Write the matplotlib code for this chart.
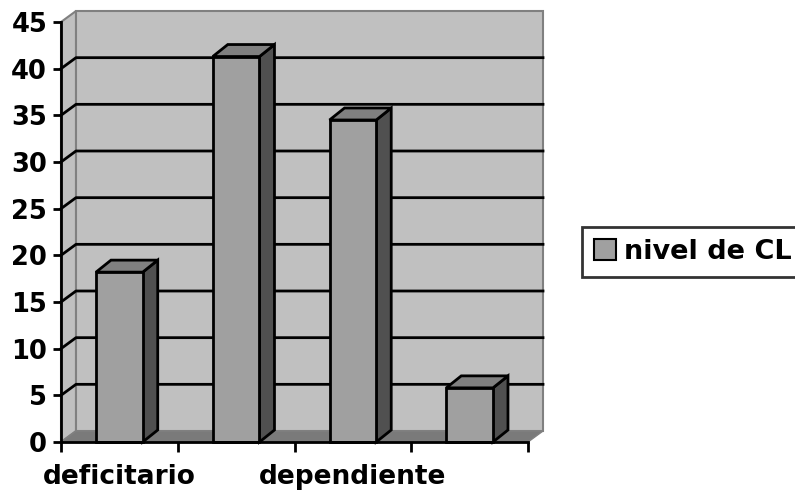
import matplotlib
matplotlib.use("Agg")
import matplotlib.pyplot as plt
from matplotlib.patches import Polygon, Patch
from matplotlib.lines import Line2D

plt.rcParams["font.family"] = ["DejaVu Sans"]
plt.rcParams["font.weight"] = "bold"

# Data
categories = ["deficitario", "", "dependiente", ""]
values = [18.2, 41.3, 34.5, 5.8]
series_name = "nivel de CL"
y_ticks = [0, 5, 10, 15, 20, 25, 30, 35, 40, 45]

# Colours
WALL = "#c0c0c0"
WALL_EDGE = "#808080"
FLOOR = "#7a7a7a"
BAR_FRONT = "#a0a0a0"
BAR_TOP = "#808080"
BAR_SIDE = "#505050"

W, H, DPI = 795, 499, 100
fig = plt.figure(figsize=(W / DPI, H / DPI), dpi=DPI)
fig.patch.set_facecolor("white")

# front plane of the plot area in figure pixels
left_px, right_px, bottom_px, top_px = 61, 528, 442, 22
ax = fig.add_axes([left_px / W, (H - bottom_px) / H,
                   (right_px - left_px) / W, (bottom_px - top_px) / H])
n = len(categories)
ymax = y_ticks[-1]
ax.set_xlim(0, n)
ax.set_ylim(0, ymax)
ax.set_facecolor("none")

# depth offsets (pixels) converted to data units
def depth(px_x, px_y):
    inv = ax.transData.inverted()
    x0, y0 = inv.transform((0, 0))
    x1, y1 = inv.transform((px_x, px_y))
    return x1 - x0, y1 - y0

wdx, wdy = depth(15, 11)   # wall depth
bdx, bdy = depth(15, 12)   # column depth

def poly(pts, fc, ec, lw, z):
    p = Polygon(pts, closed=True, facecolor=fc, edgecolor=ec, linewidth=lw,
                zorder=z, clip_on=False, joinstyle="miter")
    ax.add_patch(p)

# side wall, back wall and floor
poly([(0, 0), (0, ymax), (wdx, ymax + wdy), (wdx, wdy)], WALL, WALL_EDGE, 1.5, 1)
poly([(wdx, wdy), (n + wdx, wdy), (n + wdx, ymax + wdy), (wdx, ymax + wdy)],
     WALL, WALL_EDGE, 1.5, 1)
poly([(0, 0), (n, 0), (n + wdx, wdy), (wdx, wdy)], FLOOR, WALL_EDGE, 1.0, 2)

# gridlines across the side and back walls
for v in y_ticks[1:-1]:
    ax.add_line(Line2D([0, wdx, n + wdx], [v, v + wdy, v + wdy], color="black",
                       linewidth=2, zorder=3, clip_on=False))

# 3-D columns
bw = 0.4
for i, v in enumerate(values):
    x0 = i + 0.5 - bw / 2
    x1 = i + 0.5 + bw / 2
    poly([(x1, 0), (x1 + bdx, bdy), (x1 + bdx, v + bdy), (x1, v)],
         BAR_SIDE, "black", 2, 5)
    poly([(x0, v), (x1, v), (x1 + bdx, v + bdy), (x0 + bdx, v + bdy)],
         BAR_TOP, "black", 2, 5)
    poly([(x0, 0), (x1, 0), (x1, v), (x0, v)], BAR_FRONT, "black", 2, 6)

# axes lines and ticks
for s in ["top", "right"]:
    ax.spines[s].set_visible(False)
for s in ["left", "bottom"]:
    ax.spines[s].set_color("black")
    ax.spines[s].set_linewidth(2)
    ax.spines[s].set_zorder(7)

ax.set_yticks(y_ticks)
ax.set_yticklabels([str(t) for t in y_ticks], fontsize=18.5, fontweight="bold")
ax.tick_params(axis="y", direction="out", length=6, width=2, pad=4, color="black")

ax.set_xticks(range(n + 1))
ax.set_xticklabels([])
ax.tick_params(axis="x", which="major", direction="out", length=7, width=2, color="black")
ax.set_xticks([i + 0.5 for i in range(n)], minor=True)
ax.set_xticklabels(categories, minor=True, fontsize=19, fontweight="bold")
ax.tick_params(axis="x", which="minor", length=0, pad=16)

# legend
handle = Patch(facecolor=BAR_FRONT, edgecolor="black", linewidth=1.5, label=series_name)
leg = fig.legend(handles=[handle], loc="upper left",
                 bbox_to_anchor=(582 / W, 1 - 227 / H), borderaxespad=0,
                 prop={"size": 19.5, "weight": "bold"}, frameon=True, fancybox=False,
                 handlelength=0.8, handleheight=0.8, handletextpad=0.3,
                 borderpad=0.45)
leg.get_frame().set_edgecolor("black")
leg.get_frame().set_linewidth(2)

fig.savefig("out.png", dpi=DPI, facecolor="white")
